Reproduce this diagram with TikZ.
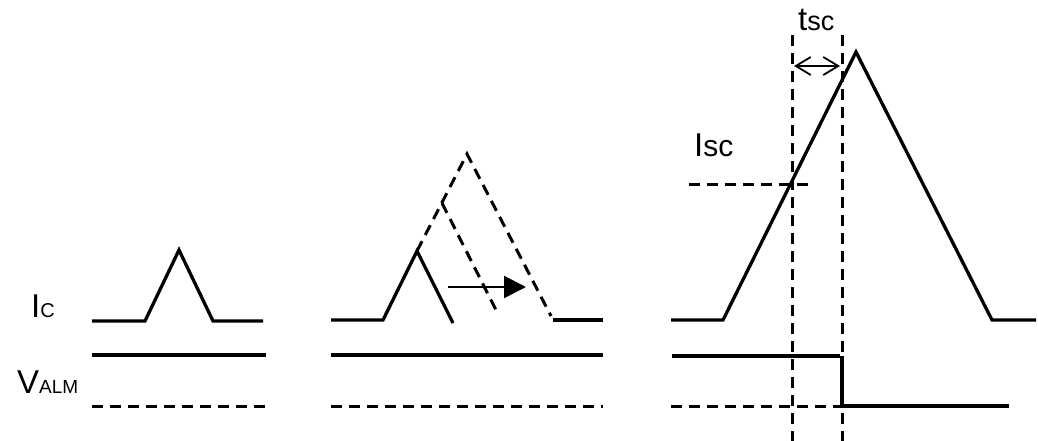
\documentclass[tikz,border=0pt]{standalone}
\usepackage{fontspec}
\setmainfont{Liberation Sans}
\usetikzlibrary{arrows.meta}
\newcommand{\bigfs}{\fontsize{33}{36}\selectfont}
\begin{document}
\begin{tikzpicture}[x=1pt,y=-1pt,
  wave/.style={line width=3.3pt},
  dsh/.style={line width=3pt, dash pattern=on 11pt off 7pt},
  lbl/.style={anchor=base west, inner sep=0pt, font=\bigfs}]
\useasboundingbox (0,0) rectangle (1038,441);
% labels
\node[lbl] (ic) at (31,317) {I{\fontsize{20}{20}\selectfont C}};
\node[lbl] (valm) at (17,393) {V{\fontsize{19}{19}\selectfont ALM}};
\node[lbl] (isc) at (694,157) {I{\fontsize{30}{30}\selectfont sc}};
\node[lbl] (tsc) at (798,31) {t{\fontsize{27}{27}\selectfont sc}};
% left panel
\draw[wave] (92,321) -- (145,321) -- (179,250) -- (213,321) -- (263,321);
\draw[wave] (92,355) -- (266,355);
\draw[dsh] (92,406) -- (266,406);
% middle panel
\draw[wave] (331,320) -- (383,320) -- (417,251) -- (453,323);
\draw[dsh] (417,251) -- (467,154) -- (551,316);
\draw[dsh] (442,203) -- (498,314);
\draw[wave] (553,320) -- (603,320);
\draw[line width=2.2pt, -{Triangle[length=22pt,width=22pt]}] (448,287) -- (526,287);
\draw[wave] (331,355) -- (603,355);
\draw[dsh] (331,406) -- (603,406);
% right panel
\draw[wave] (671,320) -- (723,320) -- (856,52) -- (992,320) -- (1036,320);
\draw[dsh] (792,35) -- (792,441);
\draw[dsh] (842,35) -- (842,441);
\draw[dsh] (689,184) -- (808,184);
\draw[line width=1.8pt, {Straight Barb[length=15pt,width=18pt]}-{Straight Barb[length=15pt,width=18pt]}] (794,66) -- (840,66);
\draw[wave] (672,356) -- (840,356);
\draw[wave] (842,356) -- (842,406) -- (1009,406);
\draw[dsh] (671,406) -- (840,406);
\end{tikzpicture}
\end{document}
